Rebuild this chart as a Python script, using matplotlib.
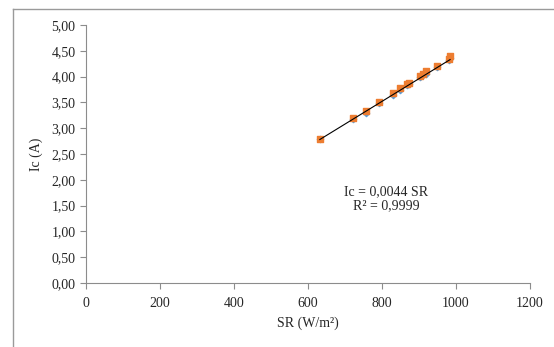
import matplotlib
matplotlib.use("Agg")
import matplotlib.pyplot as plt
from matplotlib.lines import Line2D
from matplotlib.ticker import FuncFormatter

plt.rcParams['font.family'] = ['Liberation Serif', 'DejaVu Serif']

# solar radiation (W/m2) and measured / modelled short-circuit current (A)
sr = [632, 721, 757, 791, 831, 849, 868, 874, 903, 912, 920, 948, 980, 984]
ic_measured = [2.80, 3.18, 3.30, 3.49, 3.65, 3.75, 3.83, 3.86, 4.00, 4.03, 4.06, 4.18, 4.33, 4.36]
ic_model = [2.80, 3.19, 3.34, 3.51, 3.68, 3.77, 3.85, 3.88, 4.02, 4.06, 4.10, 4.21, 4.35, 4.39]
slope = 0.0044
r2 = 0.9999

fig = plt.figure(figsize=(5.54, 3.47), dpi=100)
ax = fig.add_axes([86/554, 1-283/347, 444/554, 258/347])

# outer chart frame (left and top edges only visible)
fx, fy = 12.5/554, 1-8.5/347
fig.add_artist(Line2D([fx, fx], [0, fy], transform=fig.transFigure, color='#9a9a9a', linewidth=1.0))
fig.add_artist(Line2D([fx, 1], [fy, fy], transform=fig.transFigure, color='#9a9a9a', linewidth=1.0))

ax.scatter(sr, ic_measured, marker='D', s=10, color='#5B9BD5', zorder=2)
ax.scatter(sr, ic_model, marker='s', s=24, color='#ED7D31', zorder=3)
fit_x = [min(sr), max(sr)]
ax.plot(fit_x, [slope*v for v in fit_x], color='black', linewidth=0.8, zorder=4)

ax.set_xlim(0, 1200)
ax.set_ylim(0, 5)
ax.set_xticks(range(0, 1201, 200))
ax.set_yticks([i*0.5 for i in range(11)])
ax.yaxis.set_major_formatter(FuncFormatter(lambda v, p: ('%.2f' % v).replace('.', ',')))

for side in ('top', 'right'):
    ax.spines[side].set_visible(False)
for side in ('left', 'bottom'):
    ax.spines[side].set_color('#8c8c8c')
    ax.spines[side].set_linewidth(0.8)
ax.tick_params(direction='out', length=4, width=0.8, color='#8c8c8c', labelsize=10,
               labelcolor='#262626')
ax.tick_params(axis='x', pad=6)

ax.set_xlabel('SR (W/m²)', fontsize=10, color='#262626', labelpad=5)
ax.set_ylabel('Ic (A)', fontsize=10, color='#262626', labelpad=6)

ax.text(811, 1.64, 'Ic = %s SR\nR² = %s' % (str(slope).replace('.', ','), str(r2).replace('.', ',')),
        ha='center', va='center', fontsize=10, color='#262626', linespacing=1.1)

fig.savefig('out.png', dpi=100)
